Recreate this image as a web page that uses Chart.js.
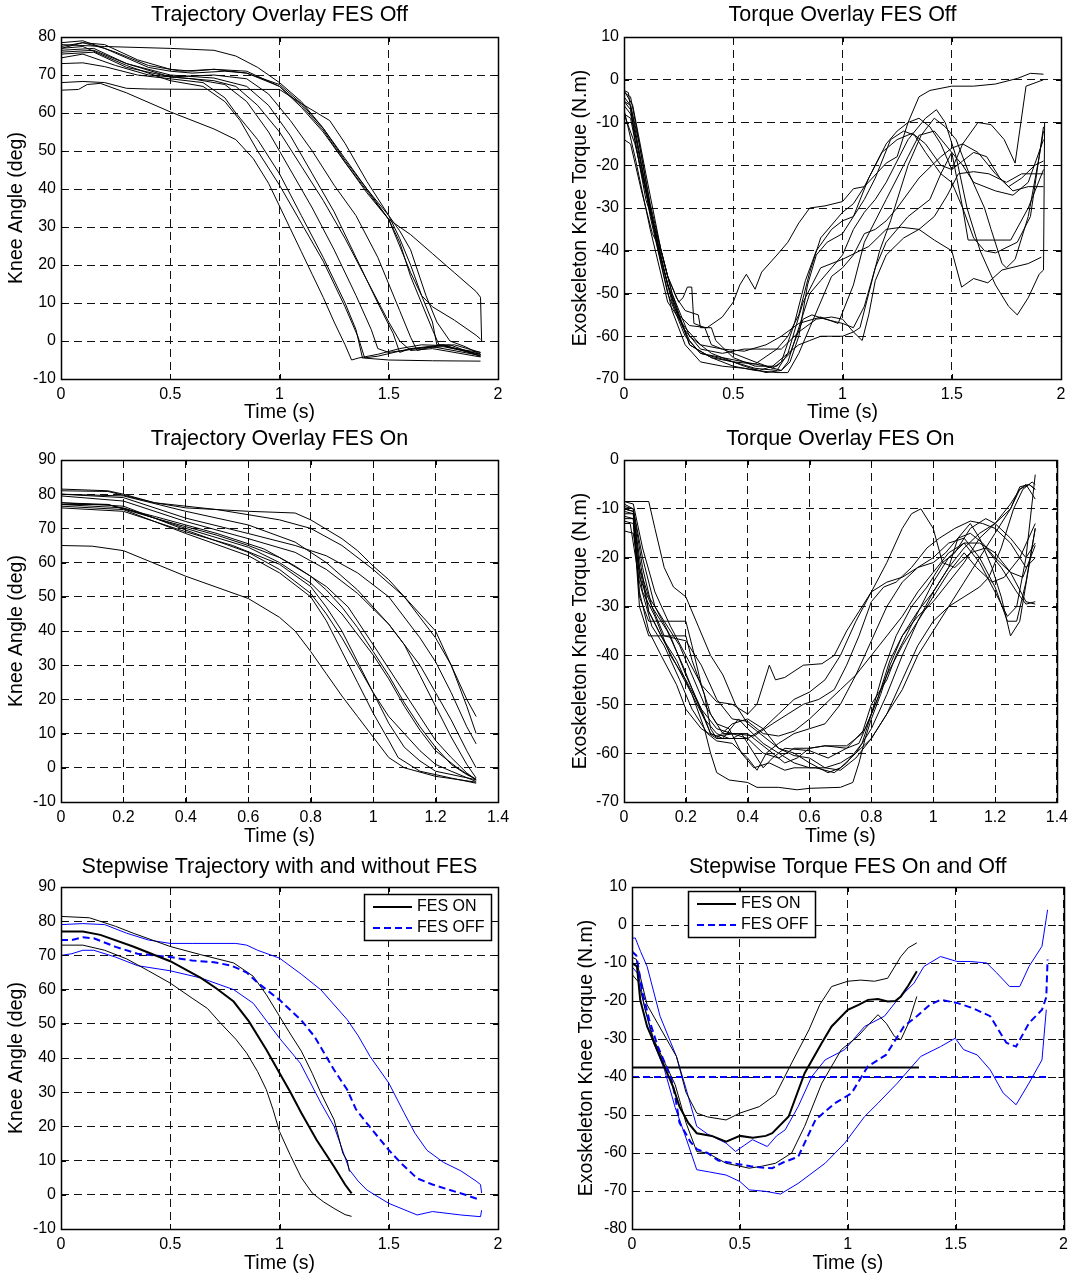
<!DOCTYPE html>
<html>
<head>
<meta charset="utf-8">
<title>Knee angle and torque, FES on and off</title>
<script src="https://cdn.jsdelivr.net/npm/chart.js@4.4.1/dist/chart.umd.min.js"></script>
<style>
  body { margin: 0; background: #fff; }
  #page { position: relative; width: 1074px; height: 1277px; }
  canvas { position: absolute; }
</style>
</head>
<body>
<div id="page">
  <canvas id="trajOffChart"></canvas>
  <canvas id="torqueOffChart"></canvas>
  <canvas id="trajOnChart"></canvas>
  <canvas id="torqueOnChart"></canvas>
  <canvas id="stepTrajChart"></canvas>
  <canvas id="stepTorqueChart"></canvas>
</div>
<script>
// ---- tick values ----
const timeTicks2 = [0, 0.5, 1, 1.5, 2];
const timeTicks14 = [0, 0.2, 0.4, 0.6, 0.8, 1, 1.2, 1.4];
const angleTicksOff = [-10, 0, 10, 20, 30, 40, 50, 60, 70, 80];
const angleTicksOn = [-10, 0, 10, 20, 30, 40, 50, 60, 70, 80, 90];
const torqueTicksOff = [-70, -60, -50, -40, -30, -20, -10, 0, 10];
const torqueTicksOn = [-70, -60, -50, -40, -30, -20, -10, 0];
const torqueTicksStep = [-80, -70, -60, -50, -40, -30, -20, -10, 0, 10];

// ---- knee angle, FES off: [time s, angle deg] ----
const trajOff1 = [[0,66],[0.08,66.2],[0.12,67.5],[0.18,67.8],[0.3,65.3],[0.5,60.3],[0.7,55.8],[0.8,53],[0.88,48],[0.95,41.5],[1.0,35.5],[1.05,29.5],[1.1,23.5],[1.15,17.5],[1.2,11.5],[1.25,5],[1.3,-1],[1.33,-5],[1.36,-4.5],[1.45,-3.5],[1.55,-2],[1.65,-1],[1.75,-1.2],[1.85,-2.5],[1.92,-3.5]];
const trajOff2 = [[0,68],[0.1,68.3],[0.2,68],[0.3,66.5],[0.4,66.3],[0.7,66.2],[1.0,66.2],[1.1,62.5],[1.23,58],[1.3,52],[1.4,42],[1.5,33],[1.55,29],[1.6,24],[1.67,12],[1.72,5],[1.78,0],[1.85,-1.5],[1.92,-3.5]];
const trajOff3 = [[0,73],[0.1,73.2],[0.2,72.2],[0.35,70],[0.5,69],[0.65,68],[0.75,64],[0.8,60],[0.9,53],[1.0,44],[1.1,33],[1.2,22],[1.3,10],[1.35,3],[1.38,-4.5],[1.45,-4],[1.6,-2],[1.75,-1.5],[1.92,-3.5]];
const trajOff4 = [[0,74.5],[0.1,75.5],[0.25,72.5],[0.4,70],[0.6,69],[0.75,67.5],[0.85,63],[0.95,55],[1.05,45],[1.15,35],[1.25,24],[1.35,12],[1.42,3],[1.45,-2],[1.5,-3],[1.7,-1.5],[1.92,-3.8]];
const trajOff5 = [[0,76],[0.15,76.5],[0.3,73],[0.5,70],[0.7,69.2],[0.85,67],[0.95,62],[1.05,54],[1.15,44],[1.25,34],[1.35,22],[1.45,10],[1.52,2],[1.55,-3],[1.6,-2],[1.75,-1],[1.92,-4]];
const trajOff6 = [[0,77],[0.1,78.5],[0.2,78],[0.35,74],[0.5,71.5],[0.6,71],[0.7,71.5],[0.85,70.5],[1.0,67],[1.1,62],[1.2,55.5],[1.3,47],[1.4,39.5],[1.5,32],[1.55,26],[1.6,17],[1.65,10],[1.7,3],[1.73,-1],[1.8,-2],[1.92,-3]];
const trajOff7 = [[0,78],[0.2,77.5],[0.5,77],[0.7,76.5],[0.8,75],[0.9,72],[1.0,68],[1.1,63],[1.2,56],[1.3,47.5],[1.4,40],[1.5,33],[1.55,27],[1.6,20],[1.65,12],[1.7,5],[1.72,-1],[1.78,-1],[1.92,-4]];
const trajOff8 = [[0,77.5],[0.1,78.5],[0.2,77],[0.4,72],[0.5,71],[0.6,70.5],[0.75,71],[0.85,70.5],[1.0,67.5],[1.1,62.5],[1.2,56],[1.3,48],[1.4,40],[1.5,32],[1.55,30],[1.6,28],[1.7,23],[1.8,18],[1.9,13],[1.92,11.5],[1.925,0]];
const trajOff9 = [[0,78.5],[0.1,79],[0.25,76],[0.4,72.5],[0.55,71],[0.7,71.5],[0.85,71],[1.0,67],[1.1,61.5],[1.2,55],[1.3,47],[1.4,39],[1.5,32],[1.6,18],[1.65,12],[1.7,9],[1.8,5.5],[1.9,1.5],[1.92,0.5]];
const trajOff10 = [[0,76.5],[0.15,77],[0.3,73],[0.5,69.5],[0.7,68.5],[0.8,67],[0.9,62],[1.0,55],[1.1,46],[1.2,37],[1.3,27],[1.4,16],[1.5,5],[1.55,0],[1.6,-2.5],[1.7,-2],[1.92,-4.2]];
const trajOff11 = [[0,77],[0.1,77.5],[0.3,72.5],[0.5,68.5],[0.65,67],[0.75,63],[0.82,58],[0.9,50],[1.0,41],[1.1,31],[1.2,21],[1.3,9],[1.36,1],[1.39,-4.5],[1.5,-5],[1.7,-5.2],[1.92,-5.3]];
const trajOff12 = [[0,75.5],[0.15,76],[0.3,72],[0.5,69.5],[0.7,70],[0.85,69],[0.95,65],[1.05,58],[1.15,50],[1.25,41],[1.35,33],[1.45,22],[1.5,15],[1.55,8],[1.6,1],[1.63,-2.5],[1.7,-1.5],[1.8,-1],[1.92,-3]];

// ---- knee torque, FES off: [time s, torque N.m] ----
const torqueOff1 = [[0,-3],[0.03,-4],[0.06,-12],[0.1,-24],[0.15,-38],[0.2,-48],[0.25,-55],[0.3,-57.5],[0.38,-58],[0.45,-55.5],[0.5,-52],[0.53,-48],[0.56,-45.5],[0.6,-49],[0.63,-45],[0.7,-41],[0.75,-38],[0.8,-33.5],[0.85,-30],[0.92,-29.5],[1.0,-28.5],[1.05,-25.5],[1.1,-25],[1.2,-19.5],[1.25,-18],[1.3,-10],[1.35,-4],[1.4,-2.5],[1.5,-1.5],[1.6,-1.5],[1.7,-1],[1.8,0.3],[1.86,1.5],[1.92,1.3]];
const torqueOff2 = [[0,-5],[0.03,-6],[0.06,-14],[0.12,-32],[0.2,-50],[0.28,-60],[0.35,-64],[0.5,-66],[0.6,-66.5],[0.7,-63],[0.75,-60],[0.8,-55],[0.85,-45],[0.9,-37],[0.95,-34],[1.0,-31],[1.05,-29],[1.1,-25],[1.15,-20],[1.2,-15],[1.25,-12],[1.3,-10],[1.35,-9],[1.4,-11],[1.45,-15],[1.5,-21],[1.55,-15],[1.62,-10],[1.68,-10.5],[1.74,-14],[1.79,-19.5],[1.84,-1.5],[1.92,0]];
const torqueOff3 = [[0,-2.5],[0.04,-6],[0.1,-22],[0.17,-40],[0.22,-50],[0.3,-60],[0.4,-64],[0.55,-67],[0.65,-68.5],[0.72,-68],[0.75,-66],[0.8,-58],[0.85,-50],[0.9,-47],[0.95,-44],[1.0,-41],[1.05,-35],[1.1,-31],[1.15,-28],[1.2,-24],[1.3,-14],[1.38,-9],[1.43,-7],[1.47,-10],[1.52,-18],[1.57,-30],[1.63,-40],[1.7,-48],[1.76,-53],[1.8,-55],[1.85,-51],[1.9,-45.5],[1.92,-44.5],[1.925,-10]];
const torqueOff4 = [[0,-8],[0.05,-15],[0.12,-30],[0.2,-48],[0.3,-62],[0.4,-65],[0.5,-66],[0.6,-67.5],[0.7,-68],[0.75,-64],[0.82,-52],[0.9,-44],[1.0,-42],[1.08,-40],[1.12,-39],[1.2,-35],[1.27,-34.5],[1.35,-35],[1.42,-37.5],[1.5,-40],[1.545,-48.5],[1.6,-46.5],[1.665,-47.5],[1.73,-44.5],[1.85,-43],[1.91,-41.5]];
const torqueOff5 = [[0,-7],[0.05,-18],[0.12,-35],[0.2,-52],[0.28,-58],[0.35,-62],[0.45,-63],[0.55,-63.5],[0.65,-62],[0.72,-60],[0.8,-57],[0.9,-55.5],[0.98,-57],[1.05,-48],[1.1,-38],[1.2,-28],[1.3,-18],[1.35,-13],[1.42,-12],[1.5,-17],[1.55,-30],[1.575,-37.5],[1.77,-37.5],[1.85,-30],[1.92,-21]];
const torqueOff6 = [[0,-5],[0.03,-7],[0.07,-18],[0.12,-30],[0.17,-42],[0.22,-52],[0.27,-58],[0.35,-63],[0.45,-64],[0.55,-63],[0.65,-63],[0.72,-63],[0.8,-59],[0.88,-56],[0.95,-55.5],[1.0,-56],[1.05,-59],[1.08,-58],[1.12,-50],[1.17,-40],[1.22,-33],[1.3,-20],[1.36,-13],[1.42,-9],[1.47,-11],[1.52,-14],[1.58,-22],[1.65,-30],[1.68,-35],[1.73,-43],[1.75,-44],[1.79,-42],[1.85,-32],[1.9,-18],[1.92,-11]];
const torqueOff7 = [[0,-8],[0.03,-9],[0.08,-22],[0.13,-33],[0.18,-44],[0.23,-53],[0.3,-61],[0.35,-64],[0.45,-65],[0.55,-66],[0.65,-67],[0.72,-68],[0.76,-66],[0.8,-60],[0.84,-48],[0.88,-41],[0.93,-38],[1.0,-36],[1.05,-32],[1.12,-23],[1.18,-17],[1.25,-14],[1.32,-12.5],[1.38,-15],[1.45,-20],[1.5,-21],[1.55,-19],[1.6,-17],[1.66,-18],[1.72,-23],[1.78,-26],[1.85,-25],[1.92,-25]];
const torqueOff8 = [[0,-4],[0.03,-6],[0.07,-15],[0.12,-29],[0.17,-40],[0.22,-50],[0.3,-62],[0.4,-65],[0.5,-67],[0.6,-68],[0.7,-68.5],[0.75,-68.5],[0.8,-64],[0.85,-58],[0.9,-52],[0.95,-46],[1.0,-44],[1.05,-41],[1.1,-36],[1.15,-35],[1.2,-33],[1.25,-30],[1.35,-23],[1.45,-18],[1.5,-16],[1.55,-15],[1.62,-17],[1.7,-22],[1.76,-25],[1.82,-23],[1.88,-20],[1.92,-19]];
const torqueOff9 = [[0,-6],[0.03,-8],[0.07,-17],[0.12,-31],[0.17,-43],[0.22,-54],[0.28,-62],[0.35,-66],[0.45,-67],[0.55,-67.5],[0.62,-68],[0.68,-67],[0.75,-64],[0.8,-62],[0.85,-61],[0.9,-60],[1.0,-60],[1.05,-59],[1.09,-61],[1.12,-55],[1.15,-47],[1.2,-41],[1.28,-37],[1.35,-35],[1.42,-32],[1.48,-27],[1.53,-22],[1.6,-21.5],[1.67,-22],[1.75,-24],[1.82,-22],[1.92,-22]];
const torqueOff10 = [[0,-14],[0.03,-15],[0.08,-26],[0.13,-36],[0.17,-40],[0.2,-46],[0.25,-52],[0.27,-51],[0.29,-48.5],[0.31,-48.5],[0.32,-57],[0.37,-58],[0.4,-62],[0.45,-63],[0.5,-64],[0.6,-66],[0.68,-67.5],[0.72,-66],[0.78,-57],[0.83,-47],[0.88,-40],[0.95,-35],[1.0,-33],[1.05,-32],[1.1,-28],[1.15,-23],[1.22,-14],[1.28,-12],[1.33,-13],[1.38,-17],[1.45,-22],[1.5,-24],[1.55,-30],[1.6,-37],[1.65,-40],[1.7,-40.5],[1.8,-38],[1.86,-32],[1.9,-18],[1.92,-12]];
const torqueOff11 = [[0,-2.5],[0.02,-3],[0.05,-14],[0.1,-28],[0.15,-36],[0.2,-46],[0.24,-51],[0.28,-54],[0.34,-55],[0.35,-58],[0.4,-58],[0.42,-61],[0.5,-65],[0.6,-67],[0.7,-67],[0.76,-64],[0.82,-56],[0.86,-55],[0.92,-56],[1.0,-57],[1.05,-58],[1.1,-53],[1.15,-44],[1.2,-38],[1.3,-32],[1.4,-28],[1.45,-22],[1.5,-17],[1.55,-20],[1.6,-24],[1.7,-26],[1.78,-27],[1.85,-24],[1.92,-14]];

// ---- knee angle, FES on ----
const trajOn1 = [[0,81.5],[0.15,81],[0.2,80],[0.3,77.5],[0.4,76],[0.6,75],[0.75,74.5],[0.8,72.5],[0.9,67],[0.95,63.5],[1.0,59],[1.05,55],[1.1,50],[1.15,44],[1.2,38],[1.25,30],[1.3,20],[1.33,15]];
const trajOn2 = [[0,81],[0.15,80.8],[0.3,77.5],[0.5,75.5],[0.7,72.5],[0.8,70],[0.9,65],[1.0,58],[1.1,50],[1.2,40],[1.25,30],[1.3,18],[1.33,10]];
const trajOn3 = [[0,80],[0.2,79],[0.4,73],[0.6,68.5],[0.75,65],[0.85,62],[0.95,57],[1.05,50],[1.15,38],[1.2,31],[1.25,22],[1.3,12],[1.33,7]];
const trajOn4 = [[0,79.5],[0.2,78],[0.4,72],[0.6,67],[0.75,63],[0.85,58],[0.95,51],[1.05,42],[1.15,30],[1.2,22],[1.25,14],[1.3,5],[1.33,0]];
const trajOn5 = [[0,77.5],[0.15,77],[0.3,73],[0.5,68],[0.6,65],[0.7,61.5],[0.8,56],[0.85,52],[0.9,47],[0.95,41],[1.0,34],[1.05,27],[1.1,19],[1.15,12],[1.2,6],[1.25,1],[1.3,-2],[1.33,-3.3]];
const trajOn6 = [[0,77],[0.2,76],[0.4,70],[0.6,64.5],[0.7,60],[0.8,54],[0.9,45],[1.0,33],[1.05,26],[1.1,18],[1.15,11],[1.2,5],[1.27,0],[1.33,-3.5]];
const trajOn7 = [[0,77.5],[0.2,76.5],[0.4,69.5],[0.6,63],[0.7,58],[0.8,51],[0.85,45],[0.9,38],[0.95,30],[1.0,22],[1.05,15],[1.1,10],[1.15,5],[1.2,1],[1.25,-1],[1.33,-4]];
const trajOn8 = [[0,76.5],[0.2,75.5],[0.4,68.5],[0.6,62],[0.7,57],[0.8,50],[0.85,43],[0.9,34],[0.95,25],[1.0,16],[1.05,8],[1.08,3],[1.15,-1],[1.25,-3],[1.33,-4.5]];
const trajOn9 = [[0,76],[0.2,75],[0.4,69],[0.55,65],[0.7,59.5],[0.8,53],[0.85,47],[0.9,40],[0.95,31],[1.0,22],[1.05,13],[1.1,6],[1.15,2],[1.2,-1],[1.33,-3.5]];
const trajOn10 = [[0,65],[0.1,64.8],[0.2,63.5],[0.4,56],[0.6,49.5],[0.7,44],[0.75,40],[0.8,34],[0.85,27.5],[0.9,21],[0.95,15],[1.0,9],[1.05,3],[1.1,0],[1.2,-2.5],[1.33,-4.2]];
const trajOn11 = [[0,80],[0.2,79.5],[0.4,75],[0.6,71],[0.75,66],[0.85,60],[0.95,52],[1.05,42],[1.1,36],[1.15,27],[1.2,18],[1.25,9],[1.3,1],[1.33,-3]];
const trajOn12 = [[0,77],[0.15,77],[0.3,73.5],[0.5,68.5],[0.65,64],[0.75,59],[0.85,53],[0.92,47],[1.0,36],[1.05,29],[1.1,22],[1.15,15],[1.2,8],[1.25,3],[1.3,-1.5],[1.33,-3.5]];

// ---- knee torque, FES on ----
const torqueOn1 = [[0,-9],[0.03,-10],[0.06,-20],[0.1,-30],[0.15,-36],[0.2,-44],[0.25,-51],[0.3,-55],[0.35,-56],[0.4,-57],[0.45,-55],[0.5,-52],[0.55,-49],[0.6,-47.5],[0.65,-45],[0.7,-40],[0.75,-33],[0.8,-27],[0.85,-21],[0.9,-14],[0.93,-11],[0.96,-10],[1.0,-14],[1.03,-21],[1.07,-22],[1.12,-19],[1.17,-18],[1.22,-22],[1.27,-27],[1.3,-29.5],[1.33,-29]];
const torqueOn2 = [[0,-8.5],[0.03,-9],[0.06,-18],[0.1,-27],[0.15,-34],[0.2,-40],[0.25,-46],[0.3,-49.5],[0.35,-50],[0.4,-52],[0.43,-50],[0.47,-42],[0.49,-45],[0.52,-44.5],[0.58,-42],[0.64,-41.7],[0.68,-40],[0.72,-35],[0.76,-31],[0.8,-27],[0.85,-25],[0.9,-24],[0.95,-22],[1.0,-21],[1.04,-19],[1.08,-16],[1.12,-15],[1.16,-17],[1.2,-20],[1.25,-23],[1.29,-24],[1.33,-17.5]];
const torqueOn3 = [[0,-10.5],[0.03,-11],[0.05,-22],[0.08,-31],[0.12,-36],[0.17,-41],[0.22,-48],[0.26,-55],[0.28,-60],[0.3,-64],[0.34,-65.5],[0.4,-66],[0.43,-67],[0.5,-67],[0.56,-67.5],[0.6,-67.2],[0.7,-67],[0.74,-66],[0.76,-62],[0.78,-57],[0.8,-53],[0.83,-48],[0.86,-42],[0.9,-36],[0.95,-31],[1.0,-27],[1.05,-22],[1.1,-18],[1.15,-15],[1.2,-13],[1.25,-9],[1.28,-6],[1.31,-5],[1.33,-6]];
const torqueOn4 = [[0,-11],[0.03,-11],[0.05,-28],[0.08,-33],[0.2,-33],[0.22,-38],[0.25,-46],[0.28,-52],[0.32,-56],[0.4,-56],[0.44,-58],[0.48,-60],[0.52,-62],[0.56,-61],[0.6,-59],[0.65,-58.5],[0.72,-59],[0.76,-58],[0.8,-52],[0.84,-43],[0.88,-36],[0.93,-30],[0.98,-26],[1.03,-21],[1.07,-19],[1.12,-14],[1.17,-12],[1.2,-13],[1.25,-16],[1.3,-20],[1.33,-17]];
const torqueOn5 = [[0,-12],[0.03,-12],[0.05,-30],[0.08,-36],[0.2,-36],[0.22,-41],[0.26,-48],[0.28,-55],[0.3,-57],[0.35,-57],[0.38,-56],[0.42,-60],[0.45,-63],[0.48,-61],[0.52,-59],[0.6,-59.5],[0.66,-61],[0.72,-59],[0.78,-55],[0.82,-49],[0.86,-41],[0.9,-36],[0.95,-32],[1.0,-29],[1.05,-25],[1.1,-21],[1.15,-16],[1.2,-13],[1.25,-10],[1.28,-6],[1.3,-5],[1.33,-8]];
const torqueOn6 = [[0,-13],[0.02,-13],[0.05,-25],[0.09,-34],[0.13,-38],[0.18,-45],[0.22,-51],[0.27,-56],[0.3,-57.5],[0.35,-58],[0.4,-61],[0.43,-63.5],[0.46,-60],[0.5,-58],[0.55,-56],[0.6,-55],[0.65,-54],[0.7,-50],[0.75,-44],[0.8,-37],[0.85,-30],[0.9,-25],[0.95,-22],[1.0,-20],[1.05,-17],[1.1,-16],[1.15,-20],[1.2,-26],[1.24,-33],[1.27,-33],[1.3,-25],[1.33,-14]];
const torqueOn7 = [[0,-14.5],[0.03,-15],[0.06,-27],[0.1,-32],[0.15,-40],[0.2,-45],[0.25,-51],[0.28,-56],[0.32,-57],[0.37,-53],[0.4,-55],[0.45,-58],[0.5,-60],[0.55,-62],[0.6,-63],[0.65,-63],[0.7,-62],[0.75,-60],[0.8,-55],[0.85,-48],[0.9,-40],[0.95,-33],[1.0,-27],[1.05,-22],[1.08,-16],[1.12,-13],[1.15,-16],[1.19,-22],[1.22,-28],[1.25,-36],[1.28,-33],[1.33,-14]];
const torqueOn8 = [[0,-8.5],[0.08,-8.5],[0.1,-14],[0.13,-22],[0.16,-26],[0.2,-28],[0.24,-34],[0.28,-40],[0.32,-44],[0.36,-50],[0.4,-54],[0.44,-56],[0.5,-59],[0.55,-60.5],[0.6,-61],[0.65,-63],[0.7,-63.5],[0.75,-61],[0.8,-57],[0.85,-52],[0.9,-45],[0.95,-38],[1.0,-33],[1.05,-30],[1.1,-28],[1.15,-26],[1.18,-24],[1.22,-18],[1.26,-10],[1.29,-6],[1.32,-4.5],[1.33,-5]];
const torqueOn9 = [[0,-10],[0.03,-10.5],[0.05,-20],[0.08,-31],[0.12,-36],[0.17,-42],[0.22,-48],[0.26,-53],[0.3,-56],[0.34,-57],[0.4,-57],[0.45,-60],[0.5,-61],[0.55,-59],[0.6,-59],[0.65,-58.5],[0.72,-58.5],[0.77,-56],[0.8,-50],[0.85,-45],[0.88,-40],[0.92,-35],[0.96,-30],[1.0,-25],[1.05,-20],[1.1,-17],[1.15,-21],[1.2,-27],[1.24,-32],[1.27,-30],[1.3,-20],[1.33,-3]];
const torqueOn10 = [[0,-11.5],[0.03,-12],[0.05,-24],[0.09,-30],[0.14,-35],[0.19,-42],[0.24,-50],[0.28,-56],[0.3,-56.5],[0.36,-56],[0.42,-56.5],[0.48,-54],[0.53,-52],[0.58,-50],[0.63,-49],[0.68,-47],[0.72,-42],[0.76,-36],[0.8,-29],[0.84,-26],[0.88,-25],[0.93,-22],[0.98,-18],[1.02,-16],[1.07,-14],[1.12,-12.5],[1.16,-13],[1.2,-14],[1.25,-17],[1.3,-22],[1.33,-20]];
const torqueOn11 = [[0,-12.5],[0.03,-13],[0.05,-27],[0.08,-35],[0.12,-40],[0.17,-46],[0.2,-51],[0.25,-55],[0.3,-57],[0.35,-54],[0.4,-53],[0.45,-55],[0.5,-59],[0.55,-60],[0.6,-62],[0.66,-64],[0.7,-63],[0.75,-60],[0.8,-57],[0.85,-52],[0.9,-47],[0.95,-40],[1.0,-35],[1.05,-30],[1.1,-25],[1.15,-20],[1.2,-15],[1.25,-10],[1.28,-5.5],[1.31,-5],[1.33,-6]];
const torqueOn12 = [[0,-9.5],[0.03,-10],[0.06,-22],[0.09,-30],[0.13,-36],[0.2,-37],[0.25,-42],[0.3,-49],[0.35,-53],[0.4,-53.5],[0.45,-56],[0.5,-56.5],[0.55,-55.5],[0.6,-53],[0.65,-50],[0.7,-47],[0.75,-44],[0.8,-40],[0.85,-36],[0.9,-32],[0.95,-27],[1.0,-23],[1.05,-19],[1.1,-17],[1.15,-17],[1.2,-19],[1.25,-23],[1.3,-29],[1.33,-29.5]];
const torqueOn13 = [[0,-10],[0.03,-10.5],[0.05,-22],[0.08,-28],[0.13,-33],[0.18,-38],[0.22,-44],[0.26,-50],[0.3,-54],[0.34,-55],[0.38,-60],[0.42,-63],[0.47,-62],[0.52,-63.5],[0.55,-63],[0.62,-63],[0.68,-64],[0.72,-62],[0.77,-58],[0.8,-52],[0.85,-44],[0.9,-38],[0.95,-33],[1.0,-28],[1.05,-23],[1.1,-19],[1.14,-22],[1.19,-25],[1.23,-24],[1.28,-20],[1.33,-13]];

// ---- stepwise mean and spread, knee angle ----
const stepTrajOn = [[0,77],[0.1,77],[0.18,76],[0.33,72.6],[0.5,68.3],[0.64,63.4],[0.71,60.4],[0.79,56.5],[0.86,50.7],[0.94,42.4],[1.0,35.6],[1.05,30],[1.1,23.9],[1.17,16],[1.25,8.2],[1.3,3],[1.33,0.4]];
const stepTrajOnHi = [[0,81.4],[0.13,81],[0.25,78.5],[0.33,76.5],[0.5,72.6],[0.64,70.2],[0.79,67.8],[0.88,63.9],[0.94,58.5],[1.0,52.2],[1.05,47],[1.1,42],[1.15,35.5],[1.19,29.7],[1.25,21.9],[1.29,12.1],[1.31,10],[1.32,6.8]];
const stepTrajOnLo = [[0,73],[0.1,73],[0.2,71.5],[0.3,69],[0.4,65.5],[0.5,61.9],[0.6,57.5],[0.67,54.5],[0.73,50.2],[0.8,45.5],[0.85,41.4],[0.9,36],[0.94,30.7],[0.97,25],[1.0,18.5],[1.05,11.5],[1.1,5],[1.15,0.5],[1.2,-2],[1.25,-4],[1.3,-5.8],[1.33,-6.3]];
const stepTrajOff = [[0,74.5],[0.05,74.5],[0.1,75.3],[0.15,75],[0.25,72.5],[0.35,70.5],[0.5,69.5],[0.6,68.5],[0.7,68],[0.78,67],[0.85,65],[0.9,62],[1.0,57],[1.1,51],[1.16,46.3],[1.25,36.5],[1.31,30.7],[1.35,25],[1.4,20.9],[1.45,17],[1.5,13.1],[1.56,9],[1.63,4.8],[1.7,3],[1.78,1.4],[1.85,0],[1.92,-1.5]];
const stepTrajOffHi = [[0,79],[0.1,79.3],[0.2,79],[0.3,76.5],[0.4,74.5],[0.5,73.5],[0.6,73.5],[0.8,73.5],[0.85,73],[0.9,71.5],[1.0,69.2],[1.1,64.5],[1.19,59.9],[1.31,51.2],[1.36,46.5],[1.415,40.4],[1.5,32.7],[1.57,24],[1.62,18],[1.675,13],[1.75,9.5],[1.83,7],[1.9,4],[1.92,3],[1.925,0.5]];
const stepTrajOffLo = [[0,70],[0.05,70.5],[0.1,71.5],[0.15,71.5],[0.25,69.5],[0.35,67],[0.5,65.5],[0.64,63.4],[0.79,60],[0.88,56],[1.0,45.8],[1.095,38.5],[1.19,26.8],[1.25,20],[1.32,7.3],[1.36,4],[1.4,1.4],[1.5,-2.5],[1.63,-5.9],[1.7,-4.9],[1.83,-5.9],[1.92,-6.4],[1.925,-4.5]];

// ---- stepwise mean and spread, knee torque ----
const stepTorqueOn = [[0,-10],[0.023,-10.9],[0.038,-19.7],[0.07,-26.7],[0.13,-34.6],[0.19,-42.5],[0.22,-47.8],[0.26,-52],[0.3,-54.8],[0.37,-55.5],[0.436,-57],[0.5,-55.5],[0.56,-56],[0.62,-55.5],[0.65,-54.8],[0.726,-50.4],[0.8,-39],[0.88,-31],[0.925,-26.7],[1.0,-22.3],[1.05,-21],[1.094,-19.7],[1.14,-19.5],[1.185,-20.1],[1.22,-20],[1.246,-18.8],[1.28,-16],[1.32,-12.2]];
const stepTorqueOnHi = [[0,-8.5],[0.02,-9],[0.04,-14],[0.07,-21],[0.12,-26],[0.206,-34.6],[0.25,-44],[0.3,-49.5],[0.35,-50.5],[0.436,-51.3],[0.5,-49.5],[0.59,-47.8],[0.665,-44.7],[0.74,-36.3],[0.82,-27.6],[0.87,-21],[0.925,-16.2],[1.0,-14.8],[1.06,-14.5],[1.124,-14.8],[1.185,-14],[1.246,-8.3],[1.28,-6],[1.32,-4.7]];
const stepTorqueOnLo = [[0,-13],[0.03,-15],[0.06,-22],[0.1,-30],[0.15,-36],[0.2,-42],[0.25,-52],[0.3,-59.6],[0.35,-60],[0.436,-62.7],[0.543,-64],[0.6,-63.5],[0.665,-62.7],[0.74,-60],[0.8,-53],[0.88,-41.6],[0.97,-32.8],[1.047,-29.3],[1.1,-26],[1.14,-23.6],[1.18,-26],[1.216,-29.3],[1.246,-30.2],[1.28,-26],[1.32,-18.8]];
const stepTorqueOff = [[0,-7],[0.02,-8],[0.05,-18],[0.08,-25],[0.12,-32],[0.15,-36],[0.18,-40],[0.2,-45],[0.22,-52],[0.27,-57],[0.3,-59],[0.35,-60],[0.4,-62],[0.45,-62.5],[0.5,-63],[0.55,-63.5],[0.6,-63.8],[0.65,-64],[0.7,-62.5],[0.77,-61],[0.85,-51.3],[0.94,-46.9],[1.017,-44.3],[1.093,-37.2],[1.177,-34.2],[1.26,-26.7],[1.32,-24],[1.38,-21],[1.43,-19.7],[1.506,-20.5],[1.58,-21.9],[1.66,-24],[1.735,-31],[1.78,-32],[1.84,-25.8],[1.9,-22.3],[1.92,-19],[1.926,-9.1]];
const stepTorqueOffHi = [[0,-3.5],[0.015,-3.4],[0.04,-7],[0.07,-10.9],[0.13,-24],[0.206,-34.6],[0.25,-43],[0.3,-53],[0.35,-55],[0.436,-57.4],[0.48,-59.6],[0.52,-58],[0.558,-56.5],[0.627,-58.3],[0.67,-55.5],[0.71,-53.9],[0.77,-47.8],[0.833,-39.9],[0.895,-35.5],[0.986,-32.8],[1.078,-26.7],[1.17,-24],[1.23,-19.7],[1.307,-15.3],[1.353,-10.9],[1.43,-8.3],[1.506,-9.6],[1.567,-9.6],[1.644,-10],[1.69,-12.6],[1.75,-16.2],[1.797,-16.2],[1.84,-10.9],[1.9,-5.6],[1.926,4]];
const stepTorqueOffLo = [[0,-11],[0.03,-13],[0.06,-22],[0.1,-31],[0.15,-38],[0.2,-48],[0.25,-56],[0.3,-64.4],[0.36,-65],[0.436,-65.8],[0.5,-67.5],[0.543,-69.7],[0.62,-70.1],[0.688,-70.8],[0.77,-68],[0.895,-62.7],[0.986,-57.4],[1.078,-50.4],[1.14,-46.9],[1.23,-41.6],[1.338,-34.6],[1.43,-32],[1.498,-29.8],[1.537,-32.8],[1.6,-34.2],[1.66,-38.1],[1.72,-44.2],[1.78,-47.3],[1.84,-41.6],[1.9,-35.5],[1.92,-22.3]];
// average torque over the whole step
const meanTorqueOn = -37.5;
const meanTorqueOnEnd = 1.33;
const meanTorqueOff = -40;
const meanTorqueOffEnd = 1.92;

// ---- drawing ----
const FONT = "'Liberation Sans', Arial, Helvetica, sans-serif";
Chart.defaults.font.family = FONT;
Chart.defaults.color = "#000";

const BLUE = "rgb(0,0,255)";

function trace(pairs, color, width, dash) {
  return {
    data: pairs.map(([x, y]) => ({ x, y })),
    borderColor: color || "#000",
    borderWidth: width || 1,
    borderDash: dash || [],
    pointRadius: 0,
    tension: 0,
    fill: false
  };
}

function flat(value, end, color, width, dash) {
  return trace([[0, value], [end, value]], color, width, dash);
}

// axes box with inward tick marks on all four sides
const framePlugin = {
  id: "frame",
  afterDraw(chart) {
    const { ctx, chartArea: a, scales } = chart;
    ctx.save();
    ctx.strokeStyle = "#000";
    ctx.lineWidth = 1;
    ctx.beginPath();
    scales.x.ticks.forEach(t => {
      const px = Math.round(scales.x.getPixelForValue(t.value)) + 0.5;
      ctx.moveTo(px, a.bottom); ctx.lineTo(px, a.bottom - 5);
      ctx.moveTo(px, a.top); ctx.lineTo(px, a.top + 5);
    });
    scales.y.ticks.forEach(t => {
      const py = Math.round(scales.y.getPixelForValue(t.value)) + 0.5;
      ctx.moveTo(a.left, py); ctx.lineTo(a.left + 5, py);
      ctx.moveTo(a.right, py); ctx.lineTo(a.right - 5, py);
    });
    ctx.stroke();
    ctx.lineWidth = 1.5;
    ctx.strokeRect(Math.round(a.left) + 0.5, Math.round(a.top) + 0.5,
      Math.round(a.right - a.left), Math.round(a.bottom - a.top));
    ctx.restore();
  }
};

// boxed legend inside the plot, listing datasets flagged inLegend
const boxLegend = {
  id: "boxLegend",
  afterDraw(chart, args, opts) {
    const { ctx, chartArea: a } = chart;
    const bx = Math.round(a.left + opts.x), by = Math.round(a.top + opts.y);
    ctx.save();
    ctx.fillStyle = "#fff";
    ctx.fillRect(bx, by, opts.w, opts.h);
    ctx.strokeStyle = "#000";
    ctx.lineWidth = 1.5;
    ctx.strokeRect(bx + 0.5, by + 0.5, opts.w, opts.h);
    chart.data.datasets.filter(d => d.inLegend).forEach((d, i) => {
      const y = by + 13 + i * 21;
      ctx.strokeStyle = d.borderColor;
      ctx.lineWidth = d.borderWidth;
      ctx.setLineDash(d.borderDash);
      ctx.beginPath();
      ctx.moveTo(bx + 9, y);
      ctx.lineTo(bx + 48, y);
      ctx.stroke();
      ctx.setLineDash([]);
      ctx.fillStyle = "#000";
      ctx.font = "16px " + FONT;
      ctx.textBaseline = "middle";
      ctx.fillText(d.label, bx + 53, y);
    });
    ctx.restore();
  }
};

function panel(id, place, area, cfg) {
  const canvas = document.getElementById(id);
  canvas.width = place.w;
  canvas.height = place.h;
  canvas.style.left = place.x + "px";
  canvas.style.top = place.y + "px";

  const titleHeight = 21.5 * 1.2;
  const gridStyle = { color: "#111", lineWidth: 1, drawTicks: false };
  const dashed = { display: false, dash: [8, 5] };

  new Chart(canvas, {
    type: "line",
    data: { datasets: cfg.datasets },
    options: {
      responsive: false,
      animation: false,
      events: [],
      layout: {
        padding: { left: 0, bottom: 0, top: cfg.titleTop, right: place.x + place.w - area.r }
      },
      plugins: {
        legend: { display: false },
        tooltip: { enabled: false },
        title: {
          display: true,
          fullSize: false,
          text: cfg.title,
          color: "#000",
          font: { size: 21.5, weight: "normal" },
          padding: { top: 0, bottom: area.t - place.y - cfg.titleTop - titleHeight }
        },
        boxLegend: cfg.legend
      },
      scales: {
        x: {
          type: "linear",
          min: cfg.xTicks[0],
          max: cfg.xTicks[cfg.xTicks.length - 1],
          afterBuildTicks: s => { s.ticks = cfg.xTicks.map(v => ({ value: v })); },
          afterFit: s => { s.height = place.y + place.h - area.b; },
          grid: gridStyle,
          border: dashed,
          ticks: {
            font: { size: 16 }, padding: 6, maxRotation: 0, autoSkip: false,
            callback: v => String(v)
          },
          title: {
            display: true, text: "Time (s)", font: { size: 19.5 },
            padding: { top: 0, bottom: cfg.xTitlePad }
          }
        },
        y: {
          type: "linear",
          min: cfg.yTicks[0],
          max: cfg.yTicks[cfg.yTicks.length - 1],
          afterBuildTicks: s => { s.ticks = cfg.yTicks.map(v => ({ value: v })); },
          afterFit: s => { s.width = area.l - place.x; },
          grid: gridStyle,
          border: dashed,
          ticks: { font: { size: 16 }, padding: 5, autoSkip: false, callback: v => String(v) },
          title: {
            display: true, text: cfg.yTitle, font: { size: 19.5 },
            padding: { top: cfg.yTitlePad, bottom: 0 }
          }
        }
      }
    },
    plugins: cfg.legend ? [framePlugin, boxLegend] : [framePlugin]
  });
}

const ANGLE = "Knee Angle (deg)";
const TORQUE = "Exoskeleton Knee Torque (N.m)";

panel("trajOffChart", { x: 0, y: 0, w: 537, h: 425 }, { l: 61, t: 37, r: 498, b: 379 }, {
  title: "Trajectory Overlay FES Off", titleTop: 2.4, xTitlePad: 0.3, yTitlePad: 5,
  yTitle: ANGLE, xTicks: timeTicks2, yTicks: angleTicksOff,
  datasets: [trajOff1, trajOff2, trajOff3, trajOff4, trajOff5, trajOff6, trajOff7, trajOff8,
    trajOff9, trajOff10, trajOff11, trajOff12].map(p => trace(p))
});

panel("torqueOffChart", { x: 537, y: 0, w: 537, h: 425 }, { l: 624, t: 37, r: 1061, b: 379 }, {
  title: "Torque Overlay FES Off", titleTop: 2.4, xTitlePad: 0.3, yTitlePad: 32,
  yTitle: TORQUE, xTicks: timeTicks2, yTicks: torqueTicksOff,
  datasets: [torqueOff1, torqueOff2, torqueOff3, torqueOff4, torqueOff5, torqueOff6, torqueOff7,
    torqueOff8, torqueOff9, torqueOff10, torqueOff11].map(p => trace(p))
});

panel("trajOnChart", { x: 0, y: 425, w: 537, h: 425 }, { l: 61, t: 460, r: 498, b: 802 }, {
  title: "Trajectory Overlay FES On", titleTop: 1.3, xTitlePad: 1.3, yTitlePad: 5,
  yTitle: ANGLE, xTicks: timeTicks14, yTicks: angleTicksOn,
  datasets: [trajOn1, trajOn2, trajOn3, trajOn4, trajOn5, trajOn6, trajOn7, trajOn8,
    trajOn9, trajOn10, trajOn11, trajOn12].map(p => trace(p))
});

panel("torqueOnChart", { x: 537, y: 425, w: 537, h: 425 }, { l: 624, t: 460, r: 1062, b: 802 }, {
  title: "Torque Overlay FES On", titleTop: 1.3, xTitlePad: 1.3, yTitlePad: 32,
  yTitle: TORQUE, xTicks: timeTicks14, yTicks: torqueTicksOn,
  datasets: [torqueOn1, torqueOn2, torqueOn3, torqueOn4, torqueOn5, torqueOn6, torqueOn7,
    torqueOn8, torqueOn9, torqueOn10, torqueOn11, torqueOn12, torqueOn13].map(p => trace(p))
});

panel("stepTrajChart", { x: 0, y: 850, w: 537, h: 427 }, { l: 61, t: 887, r: 498, b: 1229 }, {
  title: "Stepwise Trajectory with and without FES", titleTop: 3.9, xTitlePad: 1.8, yTitlePad: 5,
  yTitle: ANGLE, xTicks: timeTicks2, yTicks: angleTicksOn,
  legend: { x: 303, y: 7, w: 127, h: 46 },
  datasets: [
    Object.assign(trace(stepTrajOn, "#000", 2), { label: "FES ON", inLegend: true }),
    Object.assign(trace(stepTrajOff, BLUE, 2, [7, 4]), { label: "FES OFF", inLegend: true }),
    trace(stepTrajOnHi), trace(stepTrajOnLo),
    trace(stepTrajOffHi, BLUE), trace(stepTrajOffLo, BLUE)
  ]
});

panel("stepTorqueChart", { x: 537, y: 850, w: 537, h: 427 }, { l: 632, t: 887, r: 1068, b: 1229 }, {
  title: "Stepwise Torque FES On and Off", titleTop: 3.9, xTitlePad: 1.8, yTitlePad: 38,
  yTitle: TORQUE, xTicks: timeTicks2, yTicks: torqueTicksStep,
  legend: { x: 56, y: 4, w: 127, h: 46 },
  datasets: [
    Object.assign(trace(stepTorqueOn, "#000", 2), { label: "FES ON", inLegend: true }),
    Object.assign(trace(stepTorqueOff, BLUE, 2, [7, 4]), { label: "FES OFF", inLegend: true }),
    flat(meanTorqueOn, meanTorqueOnEnd, "#000", 2),
    flat(meanTorqueOff, meanTorqueOffEnd, BLUE, 2, [7, 4]),
    trace(stepTorqueOnHi), trace(stepTorqueOnLo),
    trace(stepTorqueOffHi, BLUE), trace(stepTorqueOffLo, BLUE)
  ]
});
</script>
</body>
</html>
